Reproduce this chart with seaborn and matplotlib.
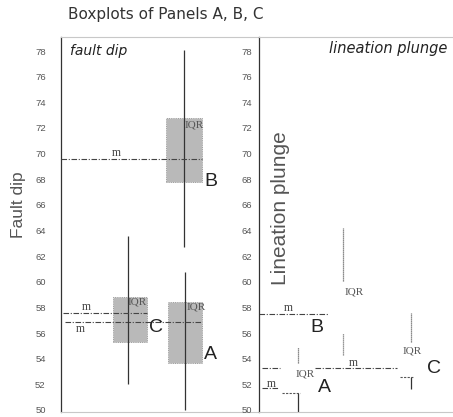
import matplotlib
matplotlib.use("Agg")
import matplotlib.pyplot as plt
import seaborn as sns

# values (degrees)
groups = ["A", "B", "C"]
yticks = list(range(50, 80, 2))

fault_lo = [50.0, 62.7, 52.0]
fault_q1 = [53.7, 67.8, 55.3]
fault_med = [56.9, 69.6, 57.6]
fault_q3 = [58.4, 72.8, 58.8]
fault_hi = [60.8, 78.1, 63.6]

lin_lo = [49.85, 54.3, 51.6]
lin_q1 = [51.3, 56.0, 52.6]
lin_med = [51.7, 57.5, 53.3]
lin_q3 = [53.7, 60.1, 55.3]
lin_hi = [54.9, 64.2, 57.6]

# layout (axes x-fraction positions), kept apart from the data
fault_pos = {
    "A": dict(x=0.626, box=(0.540, 0.712), med=[(0.02, 0.712)], m=(0.076, -0.6),
              iqr=(0.636, 58.0), lab=(0.722, 54.3)),
    "B": dict(x=0.621, box=(0.530, 0.712), med=[(0.0, 0.712)], m=(0.255, 0.45),
              iqr=(0.626, 72.2), lab=(0.722, 67.8)),
    "C": dict(x=0.338, box=(0.263, 0.434), med=[(0.01, 0.434)], m=(0.105, 0.4),
              iqr=(0.338, 58.4), lab=(0.444, 56.4)),
}
lin_pos = {
    "A": dict(x=0.201, foot=(0.119, 0.211), med=[(0.015, 0.098)], m=(0.041, 0.3),
              iqr=(0.186, 52.8), lab=(0.304, 51.75)),
    "B": dict(x=0.433, foot=None, med=[(0.0, 0.356)], m=(0.13, 0.45),
              iqr=(0.443, 59.2), lab=(0.263, 56.4)),
    "C": dict(x=0.784, foot=(0.727, 0.794), med=[(0.015, 0.108), (0.289, 0.711)], m=(0.465, 0.4),
              iqr=(0.742, 54.6), lab=(0.866, 53.2)),
}

sns.set_theme(style="white")
plt.rcParams["font.family"] = ["Liberation Sans", "DejaVu Sans"]

fig = plt.figure(figsize=(4.53, 4.17), dpi=100)
ax1 = fig.add_axes([61 / 453, 5 / 417, 198 / 453, 375 / 417])
ax2 = fig.add_axes([259 / 453, 5 / 417, 194 / 453, 375 / 417])

ylim = (49.84, 79.1)
for ax in (ax1, ax2):
    ax.set_xlim(0, 1)
    ax.set_ylim(*ylim)
    ax.set_xticks([])
    ax.set_yticks(yticks)
    ax.set_yticklabels([str(t) for t in yticks], fontsize=6.8, color="#555555")
    ax.tick_params(axis="y", length=0)
    ax.patch.set_alpha(0)
    for side in ("top", "bottom"):
        ax.spines[side].set_color("#c8c8c8")
        ax.spines[side].set_linewidth(0.8)
    ax.spines["left"].set_color("#333333")
    ax.spines["left"].set_linewidth(0.9)
    ax.spines["right"].set_visible(False)
ax1.tick_params(axis="y", pad=11)
ax2.tick_params(axis="y", pad=5)

serif = ["Liberation Serif", "DejaVu Serif"]
med_style = dict(colors="#444444", linewidth=0.8, linestyles=(0, (5, 1.5, 1, 1.5)))

# panel 1: fault dip boxplots
for i, g in enumerate(groups):
    p = fault_pos[g]
    x0, x1 = p["box"]
    ax1.bar((x0 + x1) / 2, fault_q3[i] - fault_q1[i], width=x1 - x0, bottom=fault_q1[i],
            color="#b9b9b9", edgecolor="#8a8a8a", linewidth=0.6, linestyle=":", zorder=2)
    ax1.vlines(p["x"], fault_lo[i], fault_hi[i], colors="#333333", linewidth=0.9, zorder=3)
    for a, b in p["med"]:
        ax1.hlines(fault_med[i], a, b, zorder=3, **med_style)
    ax1.text(p["m"][0], fault_med[i] + p["m"][1], "m", fontsize=8.5, family=serif,
             color="#444444", ha="left", va="center")
    ax1.text(p["iqr"][0], p["iqr"][1], "IQR", fontsize=8, family=serif,
             color="#555555", ha="left", va="center")
    ax1.text(p["lab"][0], p["lab"][1], g, fontsize=14, color="#222222", ha="left", va="center")

# panel 2: lineation plunge whiskers and medians
for i, g in enumerate(groups):
    p = lin_pos[g]
    ax2.vlines(p["x"], lin_q3[i], lin_hi[i], colors="#666666", linewidth=0.9,
               linestyles=(0, (1, 0.6)))
    if p["foot"] is None:
        ax2.vlines(p["x"], lin_lo[i], lin_q1[i], colors="#777777", linewidth=0.9,
                   linestyles=(0, (1, 0.6)))
    else:
        ax2.vlines(p["x"], lin_lo[i], lin_q1[i], colors="#333333", linewidth=0.9)
        ax2.hlines(lin_q1[i], p["foot"][0], p["foot"][1], colors="#555555",
                   linewidth=0.8, linestyles=(0, (2, 1.2)))
    for a, b in p["med"]:
        ax2.hlines(lin_med[i], a, b, **med_style)
    ax2.text(p["m"][0], lin_med[i] + p["m"][1], "m", fontsize=8.5, family=serif,
             color="#444444", ha="left", va="center")
    ax2.text(p["iqr"][0], p["iqr"][1], "IQR", fontsize=8, family=serif,
             color="#555555", ha="left", va="center")
    ax2.text(p["lab"][0], p["lab"][1], g, fontsize=14, color="#222222", ha="left", va="center")

ax1.text(0.045, 0.962, "fault dip", transform=ax1.transAxes, fontsize=10,
         style="italic", family=["DejaVu Sans"], color="#222222", va="center", ha="left")
ax2.text(0.361, 0.968, "lineation plunge", transform=ax2.transAxes, fontsize=10.5,
         style="italic", family=["DejaVu Sans"], color="#222222", va="center", ha="left")

fig.text(18 / 453, 1 - 205 / 417, "Fault dip", rotation=90, fontsize=12.5,
         color="#555555", ha="center", va="center")
fig.text(280 / 453, 1 - 208 / 417, "Lineation plunge", rotation=90, fontsize=15,
         color="#555555", ha="center", va="center")
fig.text(68 / 453, 1 - 15 / 417, "Boxplots of Panels A, B, C", fontsize=11,
         family=["DejaVu Sans"], color="#333333", ha="left", va="center")

fig.savefig("out.png", dpi=100)
